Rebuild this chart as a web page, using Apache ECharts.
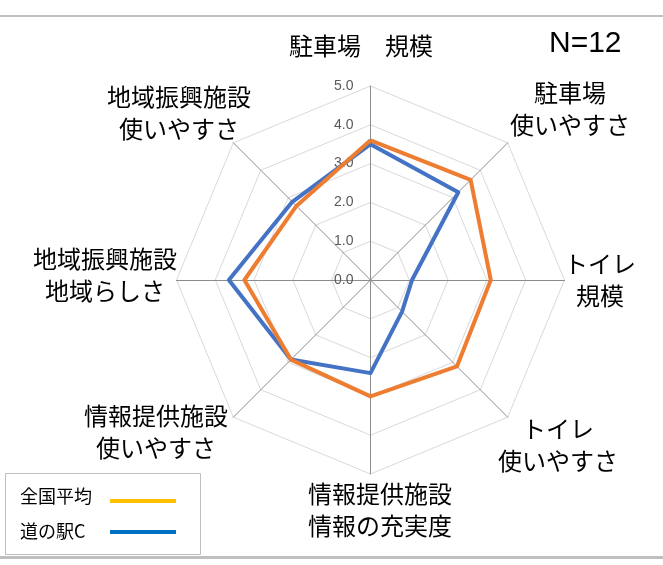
<!DOCTYPE html>
<html>
<head>
<meta charset="utf-8">
<script src="https://cdn.jsdelivr.net/npm/echarts@6/dist/echarts.min.js"></script>
<style>
  html, body { margin: 0; padding: 0; background: #fff; }
  #chart { width: 663px; height: 565px; }
</style>
</head>
<body>
<div id="chart"></div>
<script>
// Axes, listed counterclockwise from the top (ECharts radar order)
const categories = [
  '駐車場　規模',
  '地域振興施設\n使いやすさ',
  '地域振興施設\n地域らしさ',
  '情報提供施設\n使いやすさ',
  '情報提供施設\n情報の充実度',
  'トイレ\n使いやすさ',
  'トイレ\n規模',
  '駐車場\n使いやすさ'
];
const nationalAvg = [3.6, 2.7, 3.25, 2.9, 3.0, 3.15, 3.1, 3.65];
const stationC    = [3.5, 2.85, 3.65, 2.9, 2.4, 1.15, 1.07, 3.2];
const seriesNames = ['全国平均', '道の駅C'];
const scaleMax = 5;
const sampleNote = 'N=12';

// Where each axis title sits (block centre), same order as categories
const namePos = [
  [361, 46], [179, 113], [105, 275], [156, 432],
  [380, 510], [558, 445], [600, 280], [570, 109]
];

const CJK = '"Noto Sans CJK JP", "Noto Sans", sans-serif';
const chart = echarts.init(document.getElementById('chart'));

const indicator = categories.map((c, i) => {
  const ind = { name: c, min: 0, max: scaleMax };
  if (i === 0) ind.axisLabel = { show: true };
  return ind;
});

const graphics = [
  { type: 'rect', shape: { x: 0, y: 15, width: 663, height: 2 }, style: { fill: '#bfbfbf' }, silent: true },
  { type: 'rect', shape: { x: 0, y: 556, width: 663, height: 3 }, style: { fill: '#bfbfbf' }, silent: true },
  {
    type: 'text', left: 549, top: 29,
    style: { text: sampleNote, font: '30px "Liberation Sans", Arial, sans-serif', fill: '#000' }
  },
  // legend box
  { type: 'rect', shape: { x: 5.5, y: 473.5, width: 195, height: 81 }, style: { fill: '#fff', stroke: '#bfbfbf', lineWidth: 1 } },
  { type: 'text', x: 20, y: 496, style: { text: seriesNames[0], font: '18px ' + CJK, fill: '#000', textVerticalAlign: 'middle' } },
  { type: 'rect', shape: { x: 110, y: 499, width: 66, height: 4 }, style: { fill: '#FFC000' } },
  { type: 'text', x: 20, y: 531, style: { text: seriesNames[1], font: '18px ' + CJK, fill: '#000', textVerticalAlign: 'middle' } },
  { type: 'rect', shape: { x: 110, y: 530, width: 66, height: 4 }, style: { fill: '#0070C0' } }
];
categories.forEach((c, i) => {
  graphics.push({
    type: 'text', x: namePos[i][0], y: namePos[i][1],
    style: {
      text: c, font: '24px ' + CJK, fill: '#000', lineHeight: 32,
      textAlign: 'center', textVerticalAlign: 'middle'
    }
  });
});

chart.setOption({
  animation: false,
  backgroundColor: '#fff',
  radar: {
    center: [370.5, 280],
    radius: 194,
    startAngle: 90,
    splitNumber: 5,
    shape: 'polygon',
    indicator: indicator,
    axisName: { show: false },
    axisLine: { lineStyle: { color: '#8c8c8c', width: 1 } },
    splitLine: { lineStyle: { color: '#d9d9d9', width: 1 } },
    splitArea: { show: false },
    axisTick: { show: false },
    axisLabel: {
      show: false,
      color: '#595959',
      fontSize: 14,
      margin: 17,
      fontFamily: '"Liberation Sans", Arial, sans-serif',
      formatter: v => Number(v).toFixed(1)
    }
  },
  graphic: graphics,
  series: [{
    type: 'radar',
    symbol: 'none',
    data: [
      { name: seriesNames[1], value: stationC, lineStyle: { color: '#4472C4', width: 4 }, itemStyle: { color: '#4472C4' } },
      { name: seriesNames[0], value: nationalAvg, lineStyle: { color: '#ED7D31', width: 4 }, itemStyle: { color: '#ED7D31' } }
    ]
  }]
});
</script>
</body>
</html>
